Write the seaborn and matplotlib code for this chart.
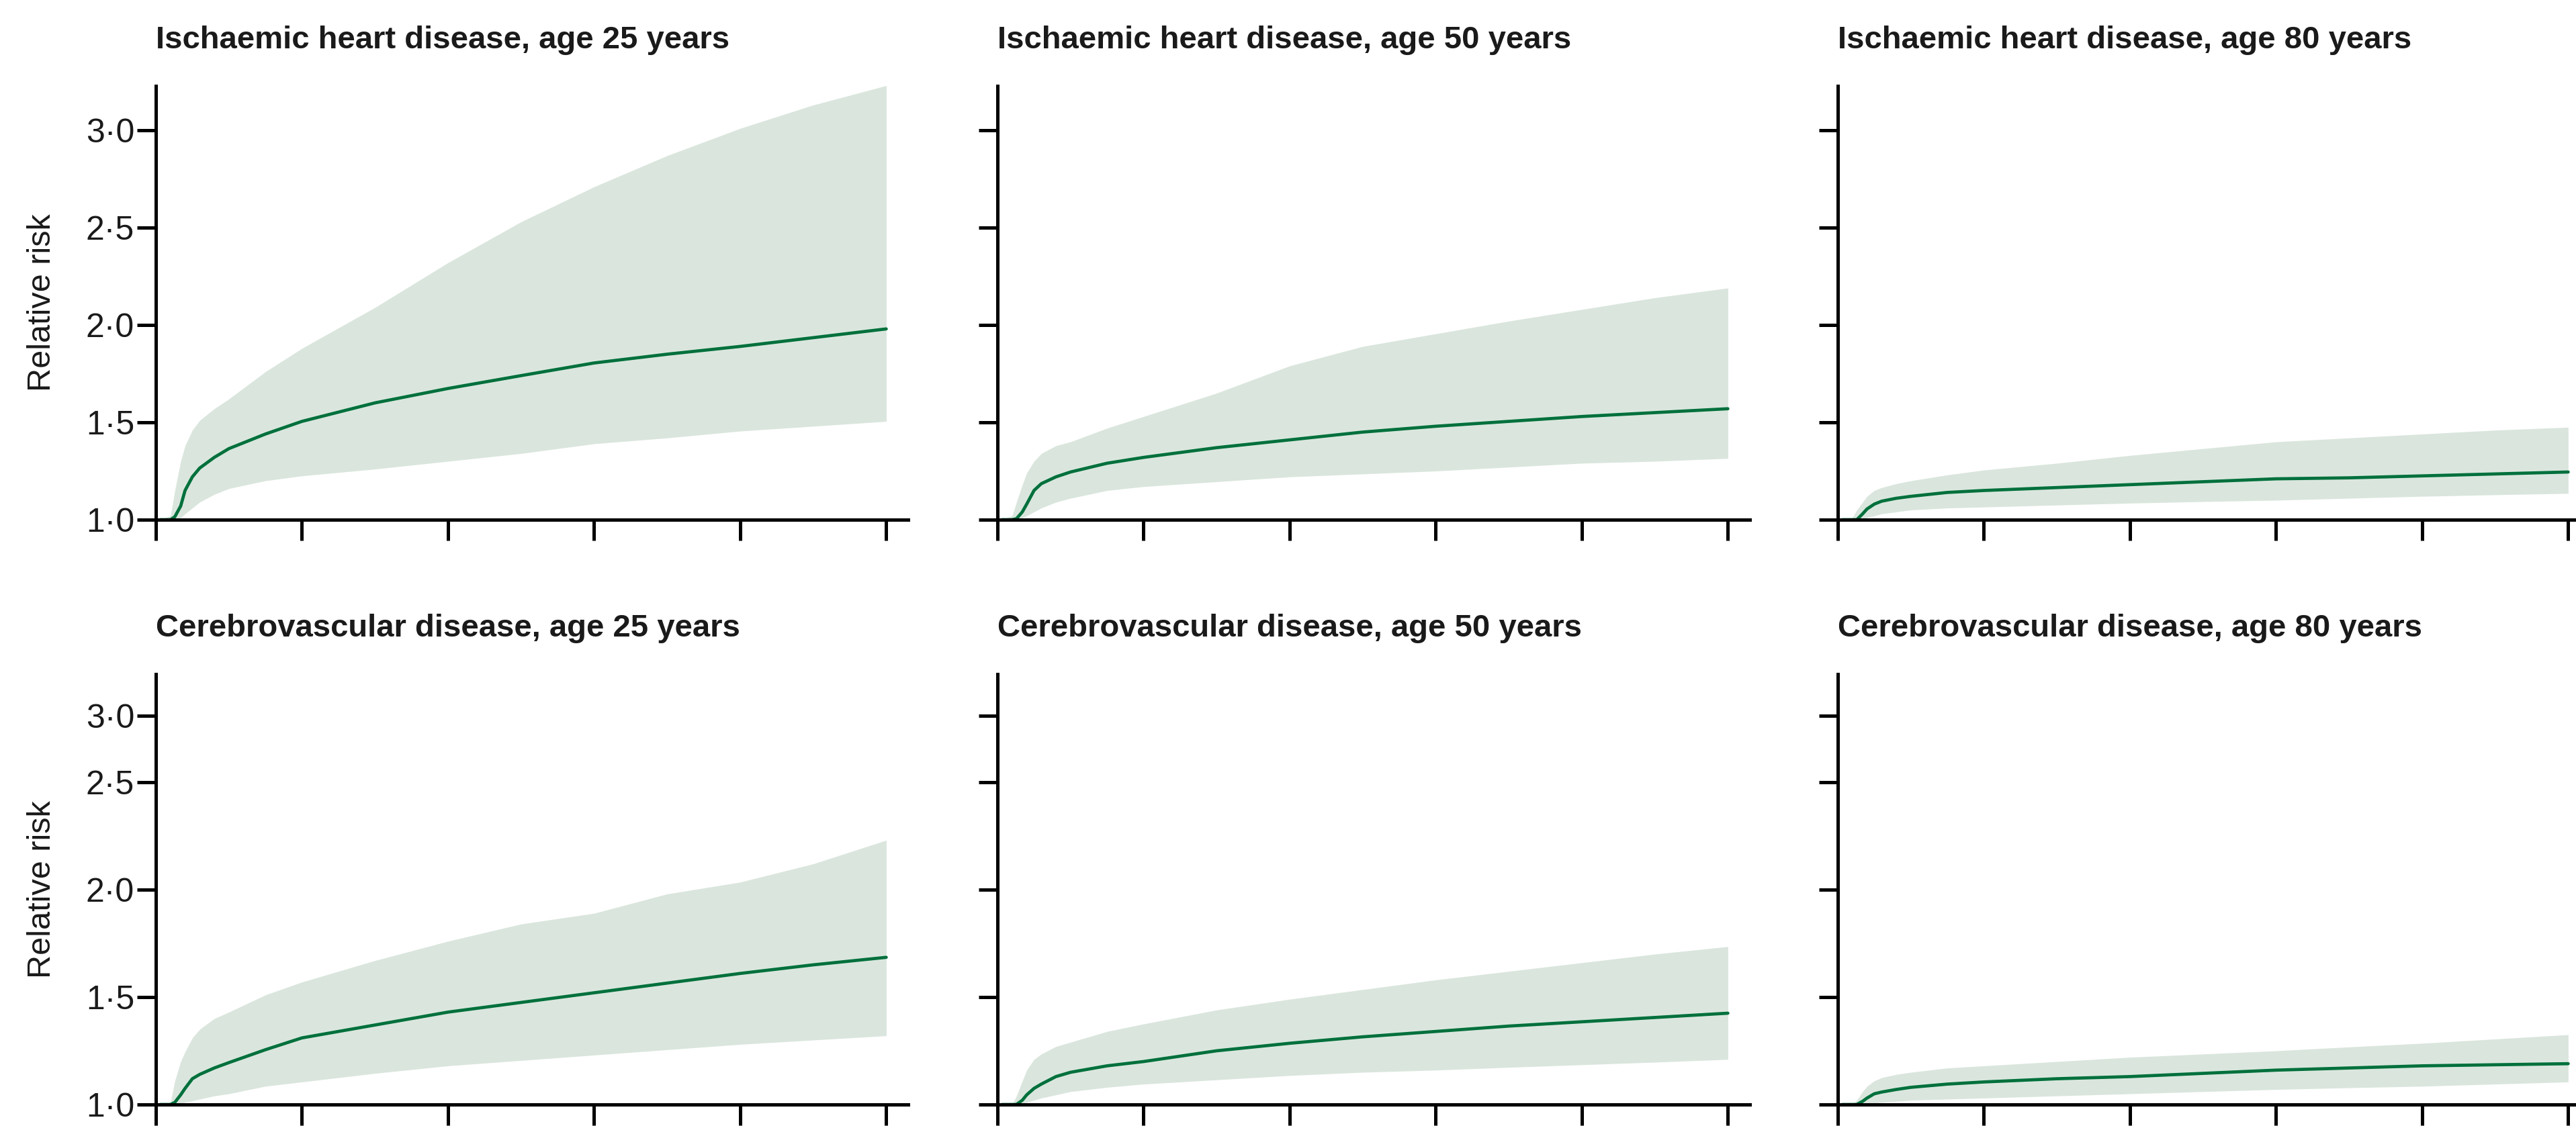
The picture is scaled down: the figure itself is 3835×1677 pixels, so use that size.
import matplotlib
matplotlib.use("Agg")
import matplotlib.pyplot as plt
import numpy as np
import pandas as pd
import seaborn as sns

# ---------------- data ----------------
x_points = [0.03, 0.1, 0.13, 0.17, 0.2, 0.25, 0.3, 0.4, 0.5, 0.75, 1, 1.5, 2, 2.5, 3, 3.5, 4, 4.5, 5]

ihd25_mean  = [1.0, 1.0, 1.015, 1.07, 1.15, 1.22, 1.265, 1.32, 1.365, 1.44, 1.505, 1.60, 1.674, 1.74, 1.805, 1.85, 1.89, 1.935, 1.98]
ihd25_upper = [1.0, 1.02, 1.15, 1.30, 1.38, 1.46, 1.51, 1.57, 1.62, 1.76, 1.88, 2.09, 2.32, 2.53, 2.71, 2.87, 3.01, 3.13, 3.23]
ihd25_lower = [1.0, 1.0, 1.0, 1.01, 1.03, 1.06, 1.09, 1.13, 1.16, 1.20, 1.225, 1.26, 1.30, 1.34, 1.39, 1.42, 1.455, 1.48, 1.505]

ihd50_mean  = [1.0, 1.0, 1.005, 1.04, 1.08, 1.15, 1.185, 1.22, 1.245, 1.29, 1.32, 1.37, 1.41, 1.45, 1.48, 1.505, 1.53, 1.55, 1.57]
ihd50_upper = [1.0, 1.02, 1.09, 1.18, 1.24, 1.30, 1.34, 1.38, 1.40, 1.47, 1.53, 1.65, 1.79, 1.89, 1.955, 2.02, 2.08, 2.14, 2.19]
ihd50_lower = [1.0, 1.0, 1.0, 1.01, 1.02, 1.04, 1.06, 1.09, 1.11, 1.15, 1.17, 1.195, 1.22, 1.235, 1.25, 1.27, 1.29, 1.30, 1.315]

ihd80_mean  = [1.0, 1.0, 1.0, 1.03, 1.055, 1.08, 1.095, 1.11, 1.12, 1.14, 1.15, 1.165, 1.18, 1.195, 1.21, 1.215, 1.225, 1.235, 1.245]
ihd80_upper = [1.0, 1.01, 1.05, 1.09, 1.12, 1.15, 1.165, 1.185, 1.20, 1.23, 1.255, 1.29, 1.33, 1.365, 1.40, 1.42, 1.44, 1.46, 1.475]
ihd80_lower = [1.0, 1.0, 1.0, 1.005, 1.01, 1.02, 1.03, 1.04, 1.05, 1.06, 1.065, 1.075, 1.085, 1.093, 1.10, 1.11, 1.12, 1.128, 1.135]

cvd25_mean  = [1.0, 1.0, 1.01, 1.045, 1.075, 1.12, 1.14, 1.17, 1.195, 1.255, 1.31, 1.37, 1.43, 1.475, 1.52, 1.565, 1.61, 1.65, 1.685]
cvd25_upper = [1.0, 1.01, 1.11, 1.20, 1.245, 1.31, 1.35, 1.40, 1.43, 1.51, 1.57, 1.67, 1.76, 1.84, 1.89, 1.98, 2.035, 2.12, 2.23]
cvd25_lower = [1.0, 1.0, 1.0, 1.005, 1.01, 1.017, 1.025, 1.04, 1.05, 1.085, 1.105, 1.145, 1.18, 1.205, 1.23, 1.255, 1.28, 1.30, 1.32]

cvd50_mean  = [1.0, 1.0, 1.0, 1.02, 1.045, 1.075, 1.095, 1.13, 1.15, 1.18, 1.20, 1.25, 1.285, 1.315, 1.34, 1.365, 1.385, 1.405, 1.425]
cvd50_upper = [1.0, 1.0, 1.04, 1.11, 1.16, 1.21, 1.235, 1.27, 1.29, 1.34, 1.375, 1.44, 1.49, 1.535, 1.58, 1.62, 1.66, 1.70, 1.735]
cvd50_lower = [1.0, 1.0, 1.0, 1.005, 1.01, 1.02, 1.03, 1.045, 1.06, 1.08, 1.095, 1.115, 1.135, 1.15, 1.16, 1.173, 1.185, 1.197, 1.21]

cvd80_mean  = [1.0, 1.0, 1.0, 1.015, 1.03, 1.05, 1.058, 1.07, 1.08, 1.095, 1.105, 1.12, 1.13, 1.145, 1.16, 1.17, 1.18, 1.185, 1.19]
cvd80_upper = [1.0, 1.0, 1.02, 1.06, 1.085, 1.11, 1.125, 1.14, 1.15, 1.17, 1.18, 1.20, 1.22, 1.235, 1.25, 1.268, 1.285, 1.305, 1.325]
cvd80_lower = [1.0, 1.0, 1.0, 1.0, 1.003, 1.007, 1.01, 1.015, 1.02, 1.025, 1.03, 1.04, 1.05, 1.06, 1.07, 1.078, 1.085, 1.095, 1.105]

panel_titles = [
    "Ischaemic heart disease, age 25 years",
    "Ischaemic heart disease, age 50 years",
    "Ischaemic heart disease, age 80 years",
    "Cerebrovascular disease, age 25 years",
    "Cerebrovascular disease, age 50 years",
    "Cerebrovascular disease, age 80 years",
]
ytick_labels = ["1·0", "1·5", "2·0", "2·5", "3·0"]
xtick_values = [0, 1, 2, 3, 4, 5]
y_label = "Relative risk"

panels = [
    (ihd25_mean, ihd25_lower, ihd25_upper),
    (ihd50_mean, ihd50_lower, ihd50_upper),
    (ihd80_mean, ihd80_lower, ihd80_upper),
    (cvd25_mean, cvd25_lower, cvd25_upper),
    (cvd50_mean, cvd50_lower, cvd50_upper),
    (cvd80_mean, cvd80_lower, cvd80_upper),
]

# ---------------- style / layout ----------------
sns.set_theme(style="ticks")
fam = ["Liberation Sans", "DejaVu Sans"]
plt.rcParams["font.family"] = fam

LINE_COLOR = "#00703c"
BAND_COLOR = "#dae6dd"
TEXT_COLOR = "#1a1a1a"

W, H = 3835, 1677
fig = plt.figure(figsize=(W / 100, H / 100), dpi=100)
fig.patch.set_facecolor("white")

col_left_px = [232, 1485, 2736]
ax_width_px = 1120
row_bottom_px = [774, 1645]      # y of x-axis, from top
row_height_px = [646, 641]
row_ylim = [(1.0, 3.228), (1.0, 3.003)]
row_ytick_pos = [[1.0, 1.5, 2.0, 2.5, 3.0], [1.0, 1.5, 2.0, 2.5, 2.81]]

for i, (mean, lower, upper) in enumerate(panels):
    r, c = divmod(i, 3)
    left = col_left_px[c] / W
    bottom = (H - row_bottom_px[r]) / H
    ax = fig.add_axes([left, bottom, ax_width_px / W, row_height_px[r] / H])
    ax.set_facecolor("white")

    df = pd.DataFrame({"x": x_points, "mean": mean, "lower": lower, "upper": upper})
    ax.fill_between(df["x"], df["lower"], df["upper"], color=BAND_COLOR, lw=0, zorder=1)
    sns.lineplot(data=df, x="x", y="mean", ax=ax, color=LINE_COLOR, linewidth=3.4,
                 zorder=2, estimator=None, sort=False)

    ax.set_xlim(0, 5.15)
    ax.set_ylim(*row_ylim[r])
    ax.set_xticks(xtick_values)
    ax.set_xticklabels([])
    ax.set_yticks(row_ytick_pos[r])
    if c == 0:
        ax.set_yticklabels(ytick_labels)
        ax.set_ylabel(y_label, fontsize=35, color=TEXT_COLOR, family=fam)
        ax.yaxis.set_label_coords(-0.131, 0.5)
    else:
        ax.set_yticklabels([])
        ax.set_ylabel("")
    ax.set_xlabel("")

    for s in ["top", "right"]:
        ax.spines[s].set_visible(False)
    for s in ["left", "bottom"]:
        ax.spines[s].set_linewidth(3.6)
        ax.spines[s].set_color("black")
        ax.spines[s].set_zorder(3)
    ax.tick_params(axis="y", direction="out", length=20, width=3.6, pad=3,
                   labelsize=36, colors="black", labelcolor=TEXT_COLOR)
    ax.tick_params(axis="x", direction="out", length=22, width=3.6, colors="black")
    for lab in ax.get_yticklabels():
        lab.set_family(fam)

    ax.set_title(panel_titles[i], loc="left", pad=40, fontsize=34,
                 fontweight="bold", color=TEXT_COLOR, family=fam)
    ax.grid(False)

fig.savefig("out.png", dpi=100, facecolor="white")
